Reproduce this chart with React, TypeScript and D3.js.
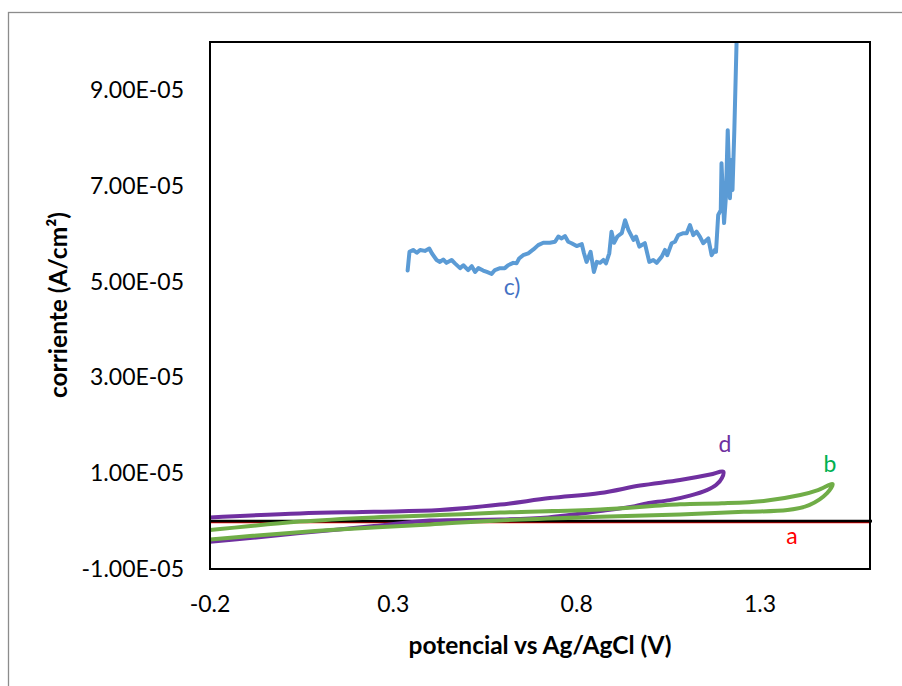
import React from "react";
import * as d3 from "d3";

// Units: potential in V, current in 1e-5 A/cm²
const UNIT = 1e-5;

const xTicks = [-0.2, 0.3, 0.8, 1.3];
const yTicks = [-1e-5, 1e-5, 3e-5, 5e-5, 7e-5, 9e-5];
const yTickLabels = ["-1.00E-05", "1.00E-05", "3.00E-05", "5.00E-05", "7.00E-05", "9.00E-05"];

// series a (red) – flat near zero
const seriesA: [number, number][] = [
  [-0.2, -0.03], [0.4, -0.03], [1.0, -0.03], [1.65, -0.03],
];

// series b (green) – closed loop
const seriesB: [number, number][] = [
  [-0.2, -0.188], [0.045, -0.01], [0.247, 0.077], [0.427, 0.125], [0.591, 0.177],
  [0.864, 0.244], [1.082, 0.349], [1.196, 0.37], [1.315, 0.424], [1.41, 0.543],
  [1.458, 0.647], [1.498, 0.772], [1.483, 0.585], [1.434, 0.334], [1.375, 0.23],
  [1.256, 0.194], [1.082, 0.14], [0.864, 0.09], [0.604, 0.02], [0.4, -0.069],
  [0.127, -0.188], [-0.091, -0.313], [-0.2, -0.382],
];

// series d (purple) – closed loop
const seriesD: [number, number][] = [
  [-0.2, 0.077], [0.045, 0.161], [0.247, 0.194], [0.427, 0.23], [0.591, 0.344],
  [0.727, 0.48], [0.864, 0.585], [0.973, 0.741], [1.082, 0.856], [1.164, 0.971],
  [1.2, 1.033], [1.196, 0.898], [1.18, 0.752], [1.155, 0.647], [1.109, 0.532],
  [1.054, 0.438], [0.991, 0.37], [0.959, 0.313], [0.864, 0.209], [0.722, 0.077],
  [0.591, 0.031], [0.4, 0.01], [0.247, -0.104], [0.045, -0.251], [-0.091, -0.355],
  [-0.2, -0.432],
];

// series c (blue) – noisy trace
const seriesC: [number, number][] = [
  [0.339, 5.23], [0.344, 5.62], [0.354, 5.66], [0.364, 5.6], [0.373, 5.66], [0.386, 5.64],
  [0.398, 5.69], [0.405, 5.59], [0.418, 5.45], [0.427, 5.41], [0.436, 5.46], [0.445, 5.39],
  [0.459, 5.45], [0.468, 5.38], [0.482, 5.28], [0.491, 5.34], [0.504, 5.24], [0.514, 5.32],
  [0.523, 5.2], [0.532, 5.28], [0.545, 5.23], [0.555, 5.2], [0.568, 5.16], [0.577, 5.24],
  [0.591, 5.28], [0.604, 5.28], [0.613, 5.34], [0.627, 5.39], [0.636, 5.38], [0.643, 5.48],
  [0.654, 5.55], [0.668, 5.59], [0.682, 5.67], [0.695, 5.76], [0.709, 5.81], [0.727, 5.81],
  [0.741, 5.83], [0.75, 5.94], [0.759, 5.9], [0.768, 5.95], [0.777, 5.83], [0.786, 5.8],
  [0.8, 5.74], [0.814, 5.78], [0.82, 5.59], [0.827, 5.41], [0.838, 5.62], [0.847, 5.2],
  [0.855, 5.41], [0.864, 5.39], [0.873, 5.45], [0.88, 5.38], [0.889, 5.59], [0.895, 6.04],
  [0.902, 5.81], [0.911, 5.94], [0.923, 6.01], [0.932, 6.28], [0.941, 6.08], [0.955, 5.87],
  [0.962, 5.94], [0.971, 5.73], [0.986, 5.8], [0.998, 5.41], [1.009, 5.45], [1.018, 5.39],
  [1.032, 5.52], [1.041, 5.66], [1.047, 5.55], [1.059, 5.8], [1.068, 5.83], [1.077, 5.97],
  [1.091, 6.01], [1.1, 6.01], [1.109, 6.18], [1.118, 5.97], [1.127, 6.04], [1.136, 5.94],
  [1.145, 5.8], [1.159, 5.9], [1.168, 5.55], [1.177, 5.66], [1.18, 5.62], [1.186, 6.39],
  [1.193, 6.49], [1.195, 7.47], [1.202, 6.22], [1.207, 6.77], [1.212, 8.16], [1.218, 6.74],
  [1.223, 7.54], [1.225, 6.91], [1.23, 8.16], [1.236, 9.97], [1.242, 10.6],
];

const FONT = "Lato, 'Open Sans', sans-serif";

export default function App() {
  const W = 902, H = 686;
  const left = 210, right = 870, top = 42, bottom = 569;
  const x = d3.scaleLinear().domain([-0.2, 1.6]).range([left, right]);
  const y = d3.scaleLinear().domain([-1e-5, 1e-4]).range([bottom, top]);

  const lineLin = d3.line<[number, number]>()
    .x((d) => x(d[0]))
    .y((d) => y(d[1] * UNIT));
  const lineSmooth = d3.line<[number, number]>()
    .x((d) => x(d[0]))
    .y((d) => y(d[1] * UNIT))
    .curve(d3.curveCatmullRom.alpha(0.5));

  return (
    <svg width={W} height={H} style={{ position: "absolute", left: 0, top: 0, background: "#fff" }}>
      <defs>
        <clipPath id="plotClip">
          <rect x={left} y={top} width={right - left} height={bottom - top} />
        </clipPath>
      </defs>
      <rect x={0} y={0} width={W} height={H} fill="#fff" />
      <rect x={8.5} y={12.5} width={1200} height={1200} fill="none" stroke="#8c8c8c" strokeWidth={1.3} />

      {/* y tick labels */}
      {yTicks.map((t, i) => (
        <text key={i} x={184} y={y(t)} dy="0.35em" textAnchor="end" fontFamily={FONT} fontSize={23} fill="#000">
          {yTickLabels[i]}
        </text>
      ))}
      {/* x tick labels */}
      {xTicks.map((t, i) => (
        <text key={i} x={x(t)} y={604} dy="0.35em" textAnchor="middle" fontFamily={FONT} fontSize={23} fill="#000">
          {t.toFixed(1)}
        </text>
      ))}

      {/* series a */}
      <g clipPath="url(#plotClip)" fill="none" strokeLinejoin="round" strokeLinecap="round">
        <path d={lineLin(seriesA) || ""} stroke="#FF0000" strokeWidth={1.6} />
      </g>
      {/* horizontal axis line at zero */}
      <line x1={left} x2={872} y1={y(0)} y2={y(0)} stroke="#000" strokeWidth={2.6} />
      <g clipPath="url(#plotClip)" fill="none" strokeLinejoin="round" strokeLinecap="round">
        <path d={lineSmooth(seriesD) || ""} stroke="#7030A0" strokeWidth={4} />
        <path d={lineSmooth(seriesB) || ""} stroke="#70AD47" strokeWidth={4} />
        <path d={lineLin(seriesC) || ""} stroke="#5B9BD5" strokeWidth={4} />
      </g>

      {/* plot border */}
      <rect x={left} y={top} width={right - left} height={bottom - top} fill="none" stroke="#000" strokeWidth={2} />

      {/* series labels */}
      <text x={512} y={287} dy="0.35em" textAnchor="middle" fontFamily={FONT} fontSize={23} fill="#4472C4">c)</text>
      <text x={725} y={444} dy="0.35em" textAnchor="middle" fontFamily={FONT} fontSize={23} fill="#7030A0">d</text>
      <text x={830} y={464} dy="0.35em" textAnchor="middle" fontFamily={FONT} fontSize={23} fill="#00B050">b</text>
      <text x={792} y={536} dy="0.35em" textAnchor="middle" fontFamily={FONT} fontSize={23} fill="#FF0000">a</text>

      {/* axis titles */}
      <text x={540} y={645} dy="0.35em" textAnchor="middle" fontFamily={FONT} fontWeight="bold" fontSize={24.5} fill="#000">
        potencial vs Ag/AgCl (V)
      </text>
      <text transform="translate(58,305) rotate(-90)" dy="0.35em" textAnchor="middle" fontFamily={FONT} fontWeight="bold" fontSize={24.5} fill="#000">
        corriente (A/cm²)
      </text>
    </svg>
  );
}
